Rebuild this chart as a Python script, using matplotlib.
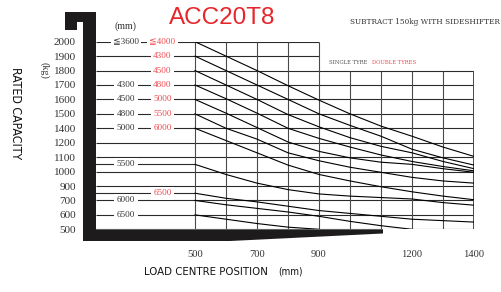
import os
import numpy as np
import matplotlib
matplotlib.use("Agg")
import matplotlib.pyplot as plt
import matplotlib.transforms as mtransforms
from matplotlib.patches import Polygon
from matplotlib import font_manager as fm

# ---------------- data ----------------
row_kg = [500, 600, 700, 900, 1000, 1100, 1200, 1400, 1500, 1600, 1700, 1800, 1900, 2000]
row_labels = [str(v) for v in row_kg]
x_ticks = [500, 700, 900, 1200, 1400]
load_centre = [500, 600, 700, 800, 900, 1000, 1100, 1200, 1300, 1400]

# capacity curves (kg) read at each load centre
cap_2000 = [2000, 1900, 1800, 1695, 1595, 1500, 1415, 1290, 1170, 1105]
cap_1900 = [1900, 1800, 1700, 1600, 1500, 1420, 1290, 1155, 1095, 1045]
cap_1800 = [1800, 1700, 1600, 1495, 1410, 1270, 1175, 1130, 1070, 1020]
cap_1700 = [1700, 1605, 1505, 1400, 1260, 1170, 1115, 1070, 1035, 1005]
cap_1600 = [1600, 1505, 1405, 1210, 1140, 1095, 1065, 1050, 1020, 995]
cap_1500 = [1500, 1400, 1250, 1130, 1075, 1030, 995, 960, 935, 920]
cap_1400 = [1400, 1230, 1130, 1045, 980, 935, 890, 820, 760, 710]
cap_1050 = [1050, 980, 920, 850, 790, 760, 740, 720, 685, 667]
cap_800 = [800, 730, 690, 660, 630, 610, 590, 570, 560, 550]
cap_700 = [700, 670, 645, 620, 590, 555, 525, 500]
cap_600 = [600, 570, 540, 515, 500]

curves = [cap_2000, cap_1900, cap_1800, cap_1700, cap_1600, cap_1500,
          cap_1400, cap_1050, cap_800, cap_700, cap_600]

# mast-height labels (mm) on the lead lines: (capacity, single tyre, double tyres)
lead_caps = [2000, 1900, 1800, 1700, 1600, 1500, 1400, 1050, 800, 700, 600]
single_lbl = ["≦3600", "", "", "4300", "4500", "4800", "5000", "5500", "", "6000", "6500"]
double_lbl = ["≦4000", "4300", "4500", "4800", "5000", "5500", "6000", "", "6500", "", ""]

# ---------------- fonts ----------------
_by_base = {os.path.basename(f.fname): f for f in fm.fontManager.ttflist}

def pick(files, fallback):
    for f in files:
        if f in _by_base:
            e = _by_base[f]
            return e.name, e.stretch
    return fallback, "normal"

SANS_C = pick(["DejaVuSansCondensed.ttf", "LiberationSansNarrow-Regular.ttf"], "Liberation Sans")
SERIF_C = pick(["DejaVuSerifCondensed.ttf"], "Liberation Serif")
TIMES = ("Liberation Serif", "normal")

def fp(spec, size):
    return fm.FontProperties(family=[spec[0], "DejaVu Sans"], stretch=spec[1], size=size)

RED = "#e5262b"
PINK = "#ef4a50"

W, H = 502, 292
fig = plt.figure(figsize=(W / 100, H / 100), dpi=100)
pix = mtransforms.Affine2D().scale(1 / W, -1 / H).translate(0, 1) + fig.transFigure

y_bot, y_top = 229.3, 41.7
x_l, x500, x_r = 96, 195, 474
ax = fig.add_axes([x_l / W, 1 - y_bot / H, (x_r - x_l) / W, (y_bot - y_top) / H])
rows = np.arange(len(row_kg))
fwd = lambda v: np.interp(v, row_kg, rows)
inv = lambda r: np.interp(r, rows, row_kg)
ax.set_yscale("function", functions=(fwd, inv))
xmin = 500 - (x500 - x_l) / 0.31
ax.set_xlim(xmin, 1400)
ax.set_ylim(500, 2000)
for s in ax.spines.values():
    s.set_visible(False)

# horizontal rows
for v in row_kg:
    xe = 900 if v >= 1900 else 1400
    ax.plot([xmin, xe], [v, v], color="#2a2a2a", lw=0.8, zorder=2, solid_capstyle="butt")
for v in (1050, 800):
    ax.plot([xmin, 500], [v, v], color="#2a2a2a", lw=0.8, zorder=2)
# vertical grid
for xv in range(500, 1401, 100):
    ye = 2000 if xv <= 900 else 1800
    ax.plot([xv, xv], [500, ye], color="#4a4a4a", lw=1.4 if xv == 1400 else 0.8,
            zorder=2, solid_capstyle="butt")

# capacity curves
for c in curves:
    ax.plot(load_centre[:len(c)], c, color="black", lw=0.8, zorder=3)

# labels on lead lines
tf = mtransforms.blended_transform_factory(pix, ax.transData)
for cap, s1, s2 in zip(lead_caps, single_lbl, double_lbl):
    if s1:
        ax.text(126, cap, s1, transform=tf, ha="center", va="center", fontproperties=fp(TIMES, 6.6),
                color="#333333", zorder=4, bbox=dict(fc="white", ec="none", pad=1.8))
    if s2:
        ax.text(162.5, cap, s2, transform=tf, ha="center", va="center", fontproperties=fp(TIMES, 6.6),
                color=PINK, zorder=4, bbox=dict(fc="white", ec="none", pad=1.8))

ax.set_yticks(row_kg)
ax.set_yticklabels(row_labels, fontproperties=fp(TIMES, 8), color="#333333")
ax.set_xticks(x_ticks)
ax.set_xticklabels([str(v) for v in x_ticks], fontproperties=fp(TIMES, 7.6), color="#333333")
ax.tick_params(axis="y", length=0, pad=14.4)
ax.tick_params(axis="x", length=0, pad=14.8)
ax.minorticks_off()

# thick black frame
frame = [(65, 12), (96, 12), (96, 229.3), (383, 229.3), (383, 233.5), (230, 241),
         (83, 241), (83, 22), (77, 22), (77, 30), (65, 30)]
fig.add_artist(Polygon(frame, closed=True, transform=pix, fc="#1e1b1c", ec="none", zorder=5))

# texts
fig.text(222 / W, 1 - 18 / H, "ACC20T8", ha="center", va="center", color=RED,
         fontsize=17.5, family="Liberation Sans")
fig.text(500 / W, 1 - 21.5 / H, "SUBTRACT 150kg WITH SIDESHIFTER", ha="right", va="center",
         color="#333333", fontproperties=fp(SERIF_C, 5.9))
fig.text(125.5 / W, 1 - 26 / H, "(mm)", ha="center", va="center", color="#333333",
         fontproperties=fp(TIMES, 7.2))
fig.text(44 / W, 1 - 70 / H, "(kg)", ha="center", va="center", rotation=-90,
         color="#333333", fontproperties=fp(TIMES, 7.2))
fig.text(15 / W, 1 - 113 / H, "RATED CAPACITY", ha="center", va="center", rotation=-90,
         color="#111111", fontproperties=fp(SANS_C, 8.8))
fig.text(144 / W, 1 - 272 / H, "LOAD CENTRE POSITION", ha="left", va="center",
         color="#111111", fontproperties=fp(SANS_C, 8.2))
fig.text(278 / W, 1 - 272 / H, "(mm)", ha="left", va="center",
         color="#111111", fontproperties=fp(SANS_C, 7.2))
fig.text(329 / W, 1 - 62 / H, "SINGLE TYRE", ha="left", va="center",
         color="#555555", fontproperties=fp(SERIF_C, 4.2))
fig.text(372 / W, 1 - 62 / H, "DOUBLE TYRES", ha="left", va="center",
         color=PINK, fontproperties=fp(SERIF_C, 4.2))

fig.savefig("out.png", dpi=100, facecolor="white")
